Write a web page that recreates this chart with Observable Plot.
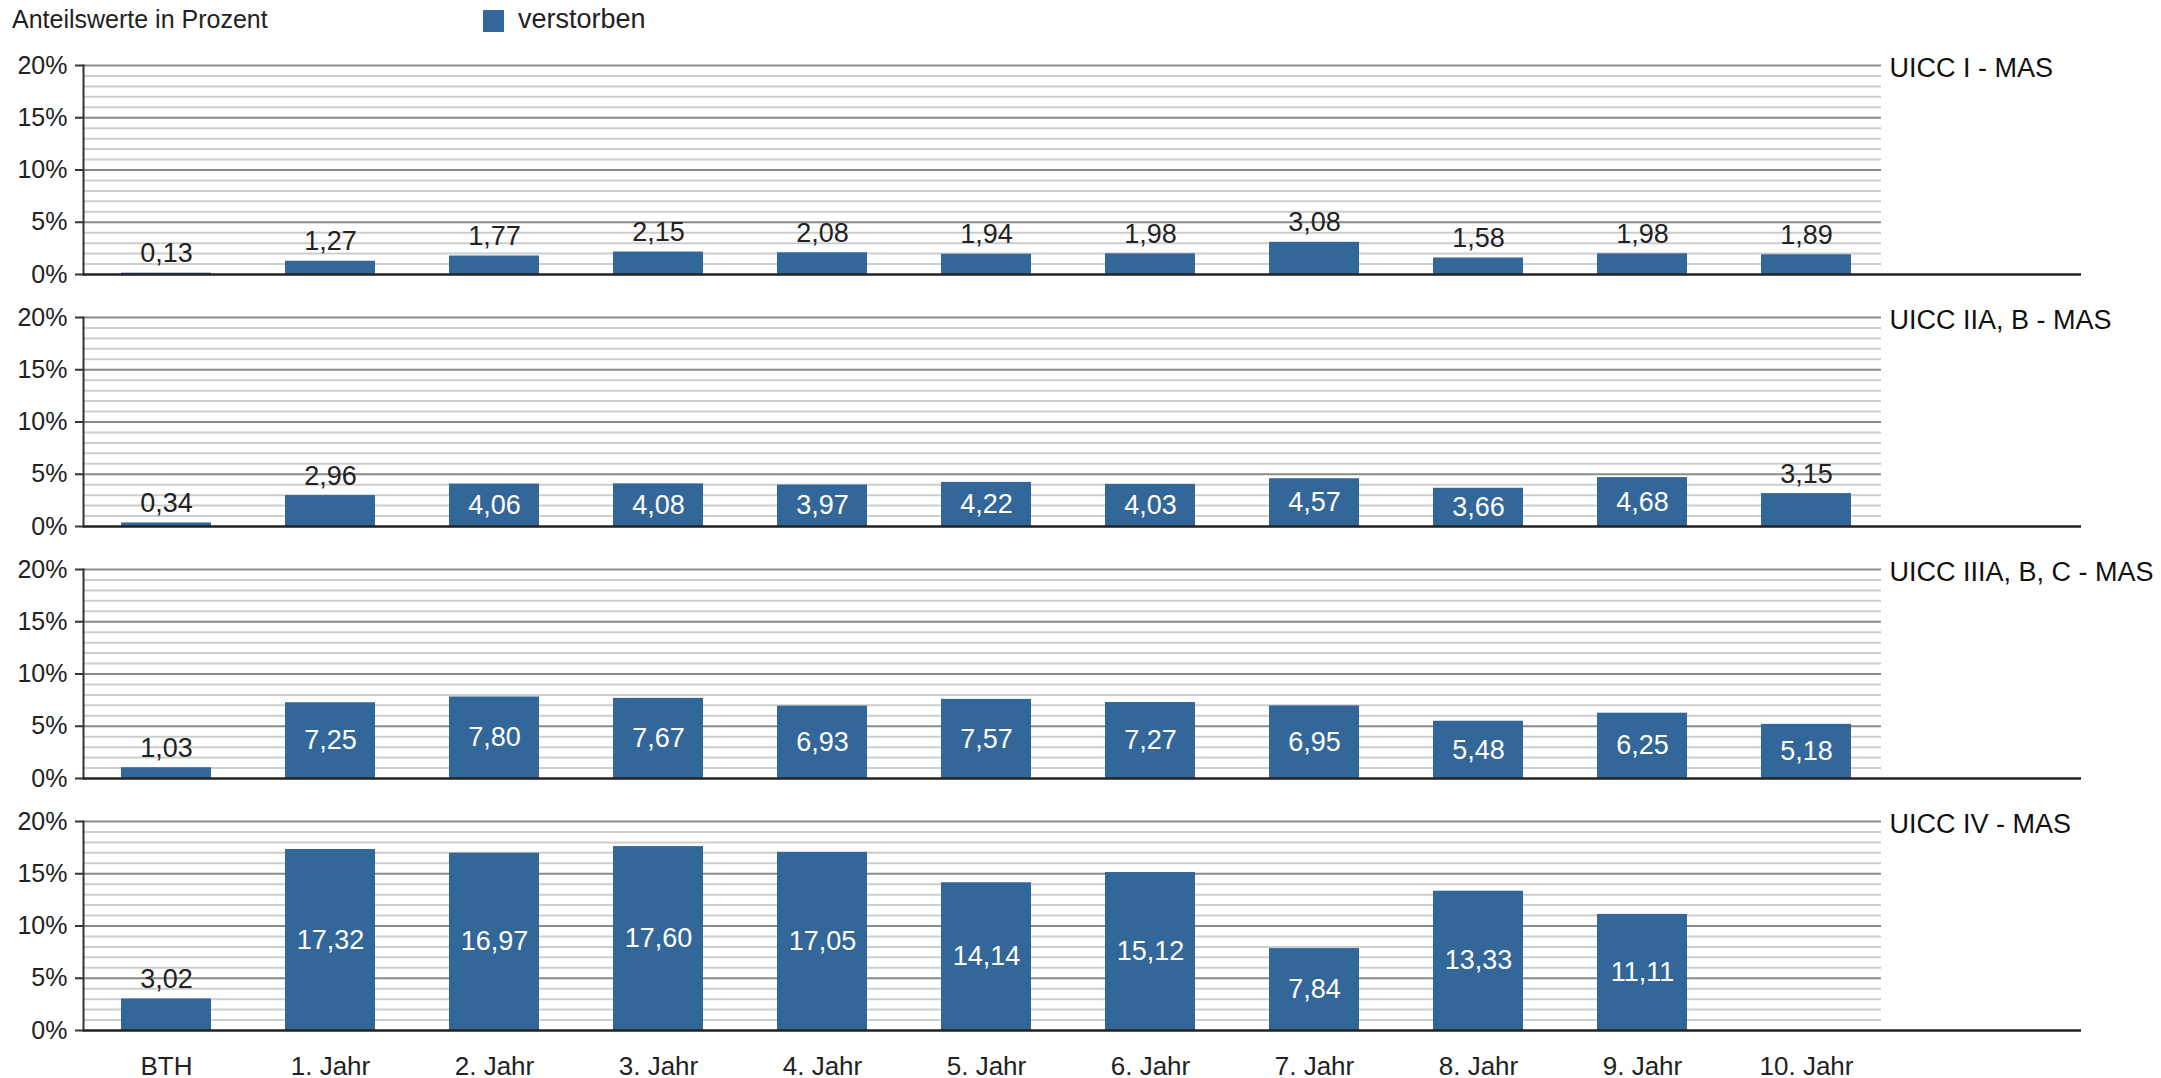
<!DOCTYPE html>
<html>
<head>
<meta charset="utf-8">
<script src="https://cdn.jsdelivr.net/npm/d3@7"></script>
<script src="https://cdn.jsdelivr.net/npm/@observablehq/plot@0.6"></script>
<style>
  html, body { margin: 0; padding: 0; background: #fff; }
  #wrap { position: relative; width: 2161px; height: 1078px; font-family: "Liberation Sans", Arial, sans-serif; color: #222; }
  #title { position: absolute; left: 12px; top: 7px; font-size: 25px; line-height: 25px; white-space: nowrap; }
  #legend { position: absolute; left: 483px; top: 6px; font-size: 27px; line-height: 27px; white-space: nowrap; display: flex; align-items: center; }
  #legend .sw { width: 21px; height: 22px; background: #336699; margin-right: 14px; margin-top: 2px; }
  #chart { position: absolute; left: 0; top: 0; }
</style>
</head>
<body>
<div id="wrap">
  <div id="chart"></div>
  <div id="title">Anteilswerte in Prozent</div>
  <div id="legend"><span class="sw"></span><span>verstorben</span></div>
</div>
<script>
const categories = ["BTH", "1. Jahr", "2. Jahr", "3. Jahr", "4. Jahr", "5. Jahr", "6. Jahr", "7. Jahr", "8. Jahr", "9. Jahr", "10. Jahr"];
const panels = ["UICC I - MAS", "UICC IIA, B - MAS", "UICC IIIA, B, C - MAS", "UICC IV - MAS"];
const uiccI    = [0.13, 1.27, 1.77, 2.15, 2.08, 1.94, 1.98, 3.08, 1.58, 1.98, 1.89];
const uiccII   = [0.34, 2.96, 4.06, 4.08, 3.97, 4.22, 4.03, 4.57, 3.66, 4.68, 3.15];
const uiccIII  = [1.03, 7.25, 7.80, 7.67, 6.93, 7.57, 7.27, 6.95, 5.48, 6.25, 5.18];
const uiccIV   = [3.02, 17.32, 16.97, 17.60, 17.05, 14.14, 15.12, 7.84, 13.33, 11.11, null];
const majorTicks = [0, 5, 10, 15, 20];
const minorTicks = [1, 2, 3, 4, 6, 7, 8, 9, 11, 12, 13, 14, 16, 17, 18, 19];
const barColor = "#336699";

const series = [uiccI, uiccII, uiccIII, uiccIV];
const rows = panels.flatMap((p, i) => series[i].map((v, j) => ({panel: p, cat: categories[j], value: v})))
  .filter(d => d.value != null);
const fmt = d => d.value.toFixed(2).replace(".", ",");
const inside = d => d.value > 3.5;

const chart = Plot.plot({
  width: 2161,
  height: 1078,
  marginTop: 64,
  marginBottom: 46,
  marginLeft: 83,
  marginRight: 272,
  style: {fontFamily: "'Liberation Sans', Arial, sans-serif", fontSize: "25px", color: "#222", background: "white", overflow: "visible"},
  x: {domain: categories, paddingInner: 0.45, paddingOuter: 0.225, label: null},
  y: {domain: [0, 20], label: null},
  fy: {domain: panels, paddingInner: 0.17, paddingOuter: 0, axis: null, label: null},
  marks: [
    Plot.ruleY(minorTicks, {stroke: "#cdcdcd", strokeWidth: 2, insetRight: 8}),
    Plot.ruleY(majorTicks.filter(d => d > 0), {stroke: "#8a8a8a", strokeWidth: 2, insetRight: 8}),
    Plot.barY(rows, {x: "cat", y: "value", fy: "panel", fill: barColor}),
    Plot.text(rows.filter(d => !inside(d)), {x: "cat", y: "value", fy: "panel", text: fmt, lineAnchor: "bottom", dy: -11, fill: "#222", fontSize: 27}),
    Plot.text(rows.filter(inside), {x: "cat", y: d => d.value / 2, fy: "panel", text: fmt, fill: "white", fontSize: 27}),
    Plot.frame({anchor: "left", stroke: "#333", strokeWidth: 2}),
    Plot.ruleY([0], {stroke: "#222", strokeWidth: 2.5, insetRight: -192}),
    Plot.axisY(majorTicks, {tickFormat: d => d + "%", tickSize: 8, tickPadding: 8, fontSize: 25, stroke: "#333", strokeWidth: 2, label: null}),
    Plot.axisX({tickSize: 0, tickPadding: 26, fontSize: 26, label: null}),
    Plot.text(panels, {fy: d => d, text: d => d, frameAnchor: "top-right", textAnchor: "start", lineAnchor: "middle", dx: 0, dy: 3, fontSize: 27, fill: "#111"})
  ]
});
document.getElementById("chart").appendChild(chart);
</script>
</body>
</html>
